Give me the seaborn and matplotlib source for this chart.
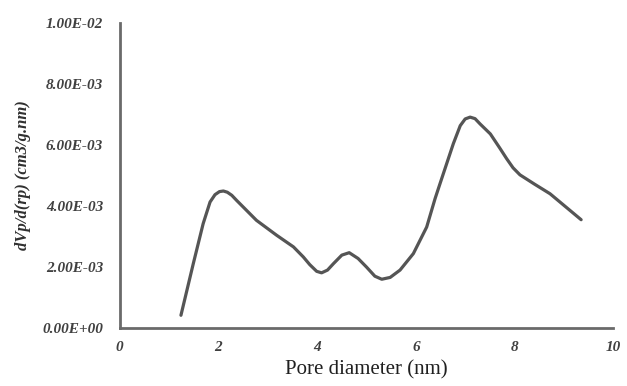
import matplotlib
matplotlib.use("Agg")
import matplotlib.pyplot as plt
import seaborn as sns
import pandas as pd

pore_diameter = [1.24, 1.49, 1.69, 1.83, 1.93, 2.02, 2.10, 2.18, 2.27, 2.37, 2.77,
                 3.18, 3.52, 3.72, 3.85, 3.99, 4.09, 4.21, 4.33, 4.50, 4.65, 4.83,
                 5.00, 5.17, 5.31, 5.48, 5.68, 5.95, 6.22, 6.39, 6.49, 6.76, 6.90,
                 7.00, 7.10, 7.20, 7.30, 7.51, 7.70, 7.84, 7.97, 8.11, 8.40, 8.72,
                 9.35]
dv_drp_e3 = [0.42, 2.11, 3.42, 4.13, 4.37, 4.47, 4.49, 4.45, 4.35, 4.18, 3.53,
             3.04, 2.66, 2.33, 2.08, 1.86, 1.81, 1.90, 2.11, 2.39, 2.47, 2.28,
             2.00, 1.70, 1.60, 1.66, 1.90, 2.44, 3.31, 4.24, 4.73, 6.04, 6.63,
             6.85, 6.91, 6.86, 6.69, 6.36, 5.90, 5.55, 5.25, 5.02, 4.72, 4.40,
             3.55]
dv_drp = [v * 1e-3 for v in dv_drp_e3]

x_ticks = [0, 2, 4, 6, 8, 10]
y_ticks = [0, 0.002, 0.004, 0.006, 0.008, 0.010]
y_tick_labels = ["0.00E+00", "2.00E-03", "4.00E-03", "6.00E-03", "8.00E-03", "1.00E-02"]

df = pd.DataFrame({"x": pore_diameter, "y": dv_drp})

sns.set_style("white")
plt.rcParams["font.family"] = ["Liberation Serif", "DejaVu Serif"]

fig = plt.figure(figsize=(6.27, 3.86), dpi=100)
ax = fig.add_axes([0.191, 0.150, 0.787, 0.791])

line_ax = sns.lineplot(data=df, x="x", y="y", ax=ax, color="#555555", linewidth=2.3,
                       sort=False, estimator=None)
for ln in ax.get_lines():
    ln.set_solid_joinstyle("round")
    ln.set_solid_capstyle("round")

ax.set_xlim(0, 10)
ax.set_ylim(0, 0.010)
ax.set_xticks(x_ticks)
ax.set_xticklabels([str(t) for t in x_ticks])
ax.set_yticks(y_ticks)
ax.set_yticklabels(y_tick_labels)

for lab in ax.get_xticklabels() + ax.get_yticklabels():
    lab.set_fontweight("bold")
    lab.set_fontstyle("italic")
    lab.set_fontsize(11)
    lab.set_color("#404040")

ax.tick_params(axis="both", length=0)
ax.tick_params(axis="x", pad=9)
ax.tick_params(axis="y", pad=12)

for side in ["top", "right"]:
    ax.spines[side].set_visible(False)
for side in ["left", "bottom"]:
    ax.spines[side].set_color("#6a6a6a")
    ax.spines[side].set_linewidth(2)

ax.set_xlabel("Pore diameter (nm)", fontsize=15, color="#202020", labelpad=5)
ax.set_ylabel("dVp/d(rp) (cm3/g.nm)", fontsize=12, fontweight="bold",
              fontstyle="italic", color="#303030", labelpad=8)

fig.savefig("out.png", dpi=100)
